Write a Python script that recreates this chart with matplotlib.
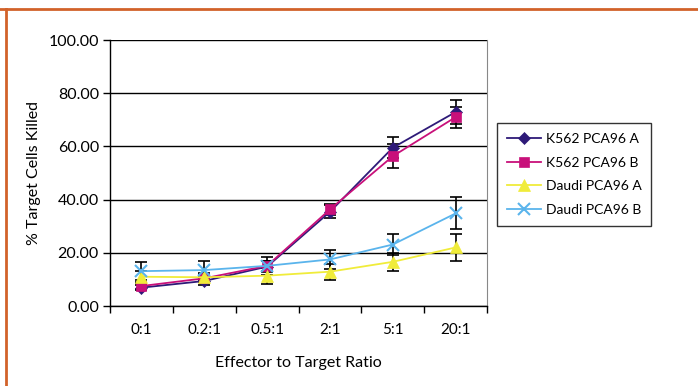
import numpy as np
import matplotlib.pyplot as plt
from matplotlib.lines import Line2D

plt.rcParams['font.family'] = ['Lato', 'DejaVu Sans']

ratios = ['0:1', '0.2:1', '0.5:1', '2:1', '5:1', '20:1']
k562_a = [6.9, 9.4, 14.8, 35.4, 59.5, 72.9]
k562_b = [7.5, 10.4, 15.1, 36.3, 56.3, 71.0]
daudi_a = [11.0, 10.8, 11.4, 12.9, 16.6, 22.0]
daudi_b = [13.1, 13.5, 15.1, 17.5, 23.1, 34.8]
err_k562_a = [1.0, 1.5, 2.0, 2.5, 4.0, 4.5]
err_k562_b = [1.0, 1.5, 2.0, 2.0, 4.5, 4.0]
err_daudi_a = [2.0, 1.5, 3.0, 3.0, 3.5, 5.0]
err_daudi_b = [3.5, 3.5, 3.5, 3.5, 4.0, 6.0]

series = [
    ('K562 PCA96 A', k562_a, err_k562_a, '#2e1a78', 'D', 6),
    ('K562 PCA96 B', k562_b, err_k562_b, '#c8107a', 's', 7),
    ('Daudi PCA96 A', daudi_a, err_daudi_a, '#f0ec3a', '^', 9),
    ('Daudi PCA96 B', daudi_b, err_daudi_b, '#5ab4ec', 'x', 9),
]

fig = plt.figure(figsize=(6.98, 3.86), dpi=100)
ax = fig.add_axes([110 / 698, 80 / 386, 377 / 698, 266 / 386])

x = np.arange(len(ratios))
for name, vals, err, col, mk, ms in series:
    ax.errorbar(x, vals, yerr=err, fmt='none', ecolor='black', elinewidth=1.2,
                capsize=4, capthick=1.2, zorder=2)
for name, vals, err, col, mk, ms in series:
    ax.plot(x, vals, color=col, marker=mk, markersize=ms, linewidth=1.3,
            markeredgewidth=1.5 if mk == 'x' else 0.5, markeredgecolor=col,
            label=name, zorder=3)

ax.set_xlim(-0.5, len(ratios) - 0.5)
ax.set_ylim(0, 100)
ax.set_yticks(np.arange(0, 101, 20))
ax.set_yticklabels([f'{v:.2f}' for v in np.arange(0, 101, 20)], fontsize=11.5)
ax.set_xticks(x)
ax.set_xticklabels(ratios, fontsize=11)
ax.set_xticks(np.arange(-0.5, len(ratios), 1), minor=True)
ax.tick_params(axis='x', which='major', length=0, pad=12)
ax.tick_params(axis='x', which='minor', length=5, width=1, direction='out')
ax.tick_params(axis='y', length=5, width=1, direction='out', pad=3)
ax.yaxis.grid(True, color='black', linewidth=1)
ax.set_axisbelow(True)
ax.spines['top'].set_visible(False)
ax.spines['right'].set_color('#888888')
ax.spines['left'].set_linewidth(1)
ax.spines['bottom'].set_linewidth(1)

ax.set_ylabel('% Target Cells Killed', fontsize=11.5, labelpad=5)
ax.set_xlabel('Effector to Target Ratio', fontsize=11.5, labelpad=14)

leg = fig.legend(loc='upper left', bbox_to_anchor=(497 / 698, 1 - 123 / 386),
                 fontsize=10, frameon=True, fancybox=False, edgecolor='black',
                 handlelength=2.5, borderpad=0.7, labelspacing=0.85,
                 handletextpad=0.3, borderaxespad=0)
leg.get_frame().set_linewidth(1)

fig.add_artist(Line2D([0, 1], [1 - 9 / 386, 1 - 9 / 386], color='#d2622a', linewidth=2))
fig.add_artist(Line2D([6 / 698, 6 / 698], [0, 1 - 9 / 386], color='#d2622a', linewidth=2))

fig.savefig('out.png', dpi=100)
